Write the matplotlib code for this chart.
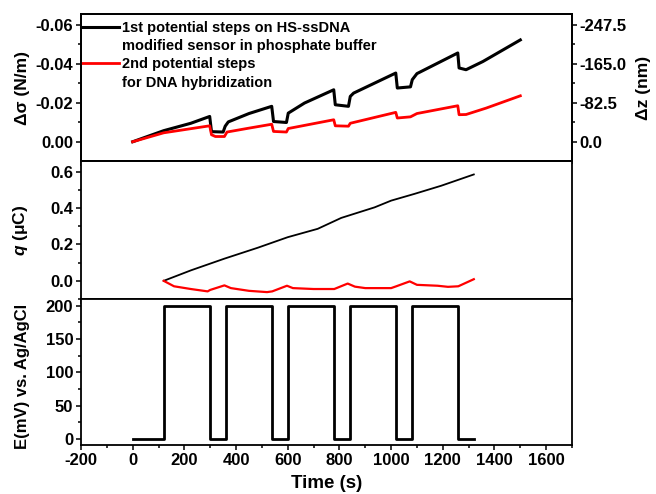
import numpy as np
import matplotlib
matplotlib.use('Agg')
import matplotlib.pyplot as plt
from matplotlib.lines import Line2D
from matplotlib.ticker import MultipleLocator, FormatStrFormatter

plt.rcParams['font.family'] = ['Liberation Sans', 'DejaVu Sans']
plt.rcParams['font.weight'] = 'bold'
plt.rcParams['axes.unicode_minus'] = False
plt.rcParams['mathtext.fontset'] = 'custom'
plt.rcParams['mathtext.it'] = 'Liberation Sans:italic:bold'
plt.rcParams['mathtext.rm'] = 'Liberation Sans:bold'

# Datos: tensión superficial (panel superior)
t_sig1 = [0, 120, 225, 298, 305, 350, 358, 370, 450, 538, 545, 595, 602, 665, 778, 784,
          835, 842, 855, 1018, 1024, 1075, 1082, 1100, 1258, 1263, 1290, 1355, 1500]
sig1 = [0.0, -0.0057, -0.0095, -0.0130, -0.0052, -0.0050, -0.0080, -0.0102, -0.0145,
        -0.0182, -0.0104, -0.0099, -0.0147, -0.0199, -0.0267, -0.0190, -0.0182, -0.0233,
        -0.0250, -0.0353, -0.0276, -0.0282, -0.0319, -0.0350, -0.0456, -0.0379, -0.0370,
        -0.0412, -0.0523]
t_sig2 = [0, 120, 298, 305, 320, 355, 365, 450, 538, 545, 595, 602, 778, 784, 835, 842,
          1018, 1024, 1075, 1100, 1258, 1263, 1290, 1368, 1500]
sig2 = [0.0, -0.0046, -0.0082, -0.0036, -0.0027, -0.0027, -0.0050, -0.0070, -0.0090,
        -0.0053, -0.0050, -0.0068, -0.0113, -0.0082, -0.0080, -0.0095, -0.0151, -0.0122,
        -0.0128, -0.0145, -0.0185, -0.0139, -0.0140, -0.0173, -0.0236]
label1 = ['1st potential steps on HS-ssDNA', 'modified sensor in phosphate buffer']
label2 = ['2nd potential steps', 'for DNA hybridization']

# Datos: carga (panel central)
t_q1 = [120, 226, 355, 484, 600, 716, 807, 936, 1000, 1090, 1194, 1320]
q1 = [0.0, 0.058, 0.122, 0.182, 0.240, 0.286, 0.346, 0.404, 0.441, 0.478, 0.523, 0.585]
t_q2 = [120, 160, 225, 290, 300, 355, 380, 450, 520, 540, 597, 620, 700, 780, 832, 860,
        900, 1000, 1020, 1072, 1100, 1180, 1220, 1260, 1320]
q2 = [0.0, -0.030, -0.045, -0.058, -0.050, -0.025, -0.040, -0.055, -0.062, -0.058,
      -0.027, -0.040, -0.045, -0.045, -0.015, -0.032, -0.040, -0.040, -0.030, -0.003,
      -0.022, -0.027, -0.033, -0.030, 0.009]

# Datos: potencial aplicado (panel inferior)
t_E = [0, 120, 300, 360, 540, 600, 780, 840, 1020, 1080, 1260, 1320]
E = [0, 200, 0, 200, 0, 200, 0, 200, 0, 200, 0, 0]

factor_z = 4125  # nm por N/m

fig = plt.figure(figsize=(6.56, 4.94), dpi=100)
L, W = 81 / 656, 491 / 656
ax1 = fig.add_axes([L, 0.674, W, 0.2976])
ax2 = fig.add_axes([L, 0.3947, W, 0.2794])
ax3 = fig.add_axes([L, 0.0992, W, 0.2955])

lw_sp = 1.3
fs_tick = 12
for ax in (ax1, ax2, ax3):
    ax.set_xlim(-200, 1700)
    ax.xaxis.set_major_locator(MultipleLocator(200))
    ax.xaxis.set_minor_locator(MultipleLocator(100))
    for s in ax.spines.values():
        s.set_linewidth(lw_sp)
    ax.tick_params(which='both', direction='out', width=1.1, labelsize=fs_tick, pad=2)
    ax.tick_params(which='major', length=3.5)
    ax.tick_params(which='minor', length=2)
    ax.tick_params(top=False, right=False)

# Panel superior
l1, = ax1.plot(t_sig1, sig1, color='black', lw=2.2)
l2, = ax1.plot(t_sig2, sig2, color='#ff0000', lw=2.0)
ax1.set_ylim(0.0099, -0.0656)
ax1.yaxis.set_major_locator(MultipleLocator(0.02))
ax1.yaxis.set_minor_locator(MultipleLocator(0.01))
ax1.yaxis.set_major_formatter(FormatStrFormatter('%.2f'))
ax1.tick_params(axis='x', labelbottom=False)
ax1.set_ylabel('Δσ (N/m)', fontsize=12.5, fontweight='bold')
ax1.yaxis.set_label_coords(-0.103, 0.5)
vacio = Line2D([], [], color='none')
ax1.legend([l1, vacio, l2, vacio], label1 + label2, loc='upper left',
           bbox_to_anchor=(0, 0.955), frameon=False,
           handlelength=2.6, handletextpad=0.2, borderaxespad=0, borderpad=0,
           labelspacing=0.3, prop={'weight': 'bold', 'size': 10.5})

axr = ax1.twinx()
axr.set_ylim(np.array(ax1.get_ylim()) * factor_z)
axr.set_yticks([-247.5, -165.0, -82.5, 0.0])
axr.yaxis.set_minor_locator(MultipleLocator(41.25))
axr.yaxis.set_major_formatter(FormatStrFormatter('%.1f'))
axr.tick_params(which='both', direction='out', width=1.1, labelsize=fs_tick, pad=2)
axr.tick_params(which='major', length=3.5)
axr.tick_params(which='minor', length=2)
axr.set_ylabel('Δz (nm)', fontsize=12.5, fontweight='bold')
axr.yaxis.set_label_coords(1.13, 0.5)
for s in axr.spines.values():
    s.set_linewidth(lw_sp)

# Panel central
ax2.plot(t_q1, q1, color='black', lw=1.3)
ax2.plot(t_q2, q2, color='#ff0000', lw=1.6)
ax2.set_ylim(-0.10, 0.659)
ax2.set_yticks([0.0, 0.2, 0.4, 0.6])
ax2.yaxis.set_minor_locator(MultipleLocator(0.1))
ax2.yaxis.set_major_formatter(FormatStrFormatter('%.1f'))
ax2.tick_params(axis='x', labelbottom=False)
ax2.set_ylabel('$q$ (μC)', fontsize=12.5, fontweight='bold')
ax2.yaxis.set_label_coords(-0.103, 0.5)

# Panel inferior
ax3.plot(t_E, E, color='black', lw=2.0, drawstyle='steps-post')
ax3.set_ylim(-9, 210)
ax3.yaxis.set_major_locator(MultipleLocator(50))
ax3.yaxis.set_minor_locator(MultipleLocator(25))
ax3.set_ylabel('E(mV) vs. Ag/AgCl', fontsize=12, fontweight='bold')
ax3.yaxis.set_label_coords(-0.103, 0.47)
ax3.set_xlabel('Time (s)', fontsize=13.5, fontweight='bold', labelpad=5)

fig.savefig('out.png', dpi=100)
